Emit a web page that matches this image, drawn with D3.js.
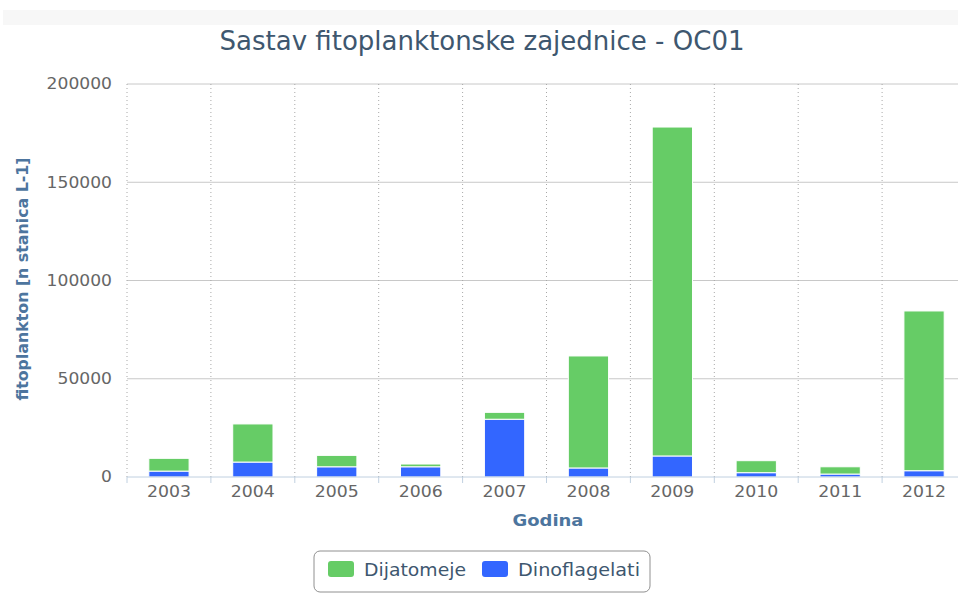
<!DOCTYPE html>
<html>
<head>
<meta charset="utf-8">
<script src="https://cdn.jsdelivr.net/npm/d3@7"></script>
<style>
  body { margin: 0; background: #fff; }
  svg { display: block; overflow: hidden; }
</style>
</head>
<body>
<script>
// data
var godine = ["2003", "2004", "2005", "2006", "2007", "2008", "2009", "2010", "2011", "2012"];
var dijatomeje = [6500, 19400, 5800, 1400, 3500, 57000, 167400, 6100, 3700, 81300];
var dinoflagelati = [3000, 7600, 5200, 5200, 29400, 4600, 10700, 2200, 1500, 3200];
var yTicks = [0, 50000, 100000, 150000, 200000];
var serije = ["Dijatomeje", "Dinoflagelati"];
var boje = ["#66cc66", "#3366ff"];

window.onload = crtaj();

function crtaj(){
    var width = 958,
        height = 613;

    var left = 127, top = 84, bottom = 477;
    var plotWidth = 839;

    var svg = d3.select("body")
        .append("svg")
        .attr("width", width)
        .attr("height", height);

    // light strip at the very top
    svg.append("rect")
        .attr("x", 3).attr("y", 10)
        .attr("width", width - 3).attr("height", 15)
        .attr("fill", "#f7f7f7");

    var x = d3.scaleBand()
        .domain(godine)
        .range([left, left + plotWidth])
        .paddingInner(0.52)
        .paddingOuter(0.26);

    var y = d3.scaleLinear()
        .domain([0, 200000])
        .range([bottom, top]);

    // horizontal grid
    svg.append("g").selectAll("line")
        .data(yTicks.slice(1))
        .enter().append("line")
        .attr("x1", left).attr("x2", left + plotWidth)
        .attr("y1", function(d){ return y(d); })
        .attr("y2", function(d){ return y(d); })
        .attr("stroke", "#c8c8c8")
        .attr("stroke-width", 1);

    // dotted vertical lines at category boundaries
    var granice = godine.map(function(g){ return x(g) - x.step() * x.paddingInner() / 2; });
    granice.push(left + plotWidth);
    svg.append("g").selectAll("line")
        .data(granice)
        .enter().append("line")
        .attr("x1", function(d){ return d; })
        .attr("x2", function(d){ return d; })
        .attr("y1", top).attr("y2", bottom)
        .attr("stroke", "#a8a8a8")
        .attr("stroke-width", 1)
        .attr("stroke-dasharray", "1,3");

    // stacked data
    var tablica = godine.map(function(g, i){
        return { godina: g, Dinoflagelati: dinoflagelati[i], Dijatomeje: dijatomeje[i] };
    });
    var stack = d3.stack().keys(["Dinoflagelati", "Dijatomeje"]);
    var slojevi = stack(tablica);

    svg.append("g").selectAll("g")
        .data(slojevi)
        .enter().append("g")
        .attr("fill", function(d){ return d.key === "Dijatomeje" ? boje[0] : boje[1]; })
        .selectAll("rect")
        .data(function(d){ return d; })
        .enter().append("rect")
        .attr("x", function(d){ return x(d.data.godina); })
        .attr("width", x.bandwidth())
        .attr("y", function(d){ return y(d[1]); })
        .attr("height", function(d){ return y(d[0]) - y(d[1]); })
        .attr("stroke", "#ffffff")
        .attr("stroke-width", 1);

    // x axis
    var xAxis = svg.append("g")
        .attr("transform", "translate(0," + bottom + ")")
        .call(d3.axisBottom(x).tickSize(0).tickPadding(9));
    xAxis.select(".domain").attr("stroke", "#c0d0e0").attr("d", "M" + left + ",0H" + (left + plotWidth));
    xAxis.selectAll("text")
        .attr("fill", "#666666")
        .attr("textLength", 44)
        .attr("lengthAdjust", "spacingAndGlyphs")
        .style("font-family", "DejaVu Sans")
        .style("font-size", "15px");
    xAxis.selectAll(".granica")
        .data(granice)
        .enter().append("line")
        .attr("x1", function(d){ return d; })
        .attr("x2", function(d){ return d; })
        .attr("y1", 0).attr("y2", 6)
        .attr("stroke", "#c0d0e0");

    // y axis labels
    var yAxis = svg.append("g")
        .attr("transform", "translate(" + left + ",0)")
        .call(d3.axisLeft(y).tickValues(yTicks).tickSize(0).tickPadding(15).tickFormat(d3.format("d")));
    yAxis.select(".domain").remove();
    yAxis.selectAll("text")
        .attr("fill", "#666666")
        .attr("textLength", function(d){ return String(d).length * 10.9; })
        .attr("lengthAdjust", "spacingAndGlyphs")
        .style("font-family", "DejaVu Sans")
        .style("font-size", "15px");

    // title
    svg.append("text")
        .attr("x", 482).attr("y", 50)
        .attr("text-anchor", "middle")
        .attr("fill", "#3e576f")
        .attr("textLength", 525)
        .attr("lengthAdjust", "spacingAndGlyphs")
        .style("font-family", "DejaVu Sans Condensed, DejaVu Sans")
        .style("font-size", "26px")
        .text("Sastav fitoplanktonske zajednice - OC01");

    // axis titles
    svg.append("text")
        .attr("transform", "translate(28,279) rotate(-90)")
        .attr("text-anchor", "middle")
        .attr("fill", "#4d759e")
        .attr("textLength", 243)
        .attr("lengthAdjust", "spacingAndGlyphs")
        .style("font-family", "DejaVu Sans Condensed, DejaVu Sans")
        .style("font-weight", "bold")
        .style("font-size", "16px")
        .text("fitoplankton [n stanica L-1]");

    svg.append("text")
        .attr("x", 548).attr("y", 526)
        .attr("text-anchor", "middle")
        .attr("fill", "#4d759e")
        .attr("textLength", 71)
        .attr("lengthAdjust", "spacingAndGlyphs")
        .style("font-family", "DejaVu Sans Condensed, DejaVu Sans")
        .style("font-weight", "bold")
        .style("font-size", "16px")
        .text("Godina");

    // legend
    var legenda = svg.append("g").attr("transform", "translate(314,551)");
    legenda.append("rect")
        .attr("width", 336).attr("height", 41)
        .attr("rx", 6)
        .attr("fill", "#ffffff")
        .attr("stroke", "#909090");
    var duljine = [102, 122];
    var stavke = legenda.selectAll(".stavka")
        .data(serije)
        .enter().append("g")
        .attr("transform", function(d, i){ return "translate(" + (14 + i * 154) + ",0)"; });
    stavke.append("rect")
        .attr("y", 10).attr("width", 26).attr("height", 16)
        .attr("rx", 3)
        .attr("fill", function(d, i){ return boje[i]; });
    stavke.append("text")
        .attr("x", 36).attr("y", 25)
        .attr("fill", "#3e576f")
        .attr("textLength", function(d, i){ return duljine[i]; })
        .attr("lengthAdjust", "spacingAndGlyphs")
        .style("font-family", "DejaVu Sans")
        .style("font-size", "17px")
        .text(function(d){ return d; });
}
</script>
</body>
</html>
